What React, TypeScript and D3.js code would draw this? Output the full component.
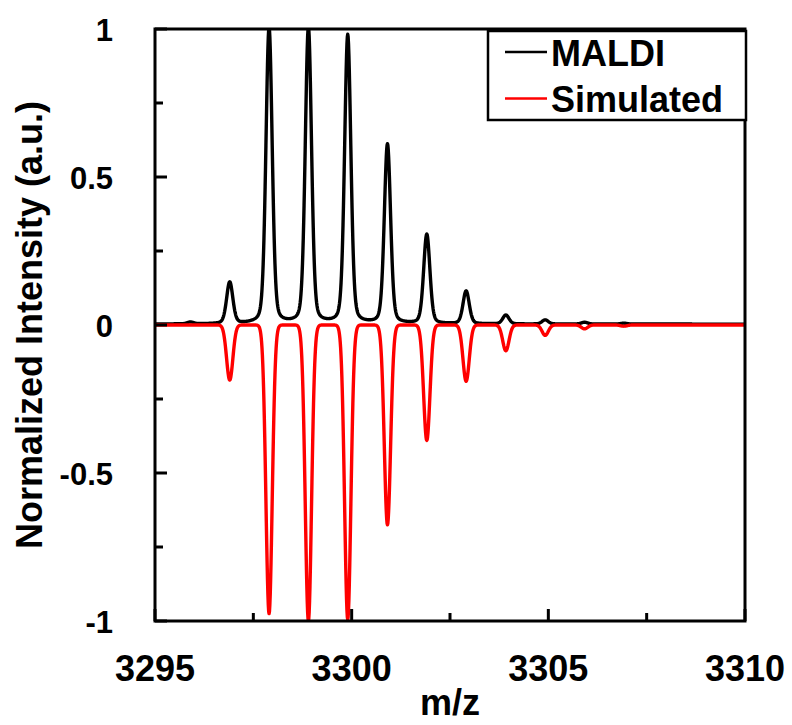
import React from "react";
import * as d3 from "d3";

// Peak list (m/z centres)
const peakMz = [3295.9, 3296.9, 3297.9, 3298.9, 3299.9, 3300.91, 3301.91, 3302.91, 3303.92, 3304.92, 3305.92, 3306.92];
// MALDI (measured) peak heights
const maldiHeights = [0.006, 0.14, 1.0, 1.0, 0.975, 0.606, 0.302, 0.111, 0.03, 0.014, 0.006, 0.003];
// Simulated isotope pattern (plotted downward)
const simulatedHeights = [0, -0.186, -0.975, -1.0, -0.995, -0.675, -0.39, -0.19, -0.087, -0.035, -0.013, -0.004];

const xTicksMajor = [3295, 3300, 3305, 3310];
const xTicksMinor = [3297.5, 3302.5, 3307.5];
const yTicksMajor = [-1, -0.5, 0, 0.5, 1];
const yTicksMinor = [-0.75, -0.25, 0.25, 0.75];
const seriesNames = ["MALDI", "Simulated"];
const seriesColors = ["#000000", "#ff0000"];

const W = 792, H = 725;
const L = 155, R = 745, T = 29, B = 621;
const FONT = "'Liberation Sans', Arial, Helvetica, sans-serif";

const SIGMA = 0.08;
const GAMMA = (2.355 * SIGMA) / 2;

function profile(heights: number[], eta: number, base: number) {
  const pts: [number, number][] = [];
  for (let i = 0; i <= 1500; i++) {
    const x = 3295 + i * 0.01;
    let y = base;
    peakMz.forEach((c, k) => {
      const dx = x - c;
      const g = Math.exp(-(dx * dx) / (2 * SIGMA * SIGMA));
      const l = 1 / (1 + (dx / GAMMA) ** 2);
      y += heights[k] * ((1 - eta) * g + eta * l);
    });
    pts.push([x, y]);
  }
  return pts;
}

export default function App() {
  const x = d3.scaleLinear().domain([3295, 3310]).range([L, R]);
  const y = d3.scaleLinear().domain([-1, 1]).range([B, T]);
  const line = d3.line<[number, number]>().x((d) => x(d[0])).y((d) => y(d[1]));
  const maldi = profile(maldiHeights, 0.25, 0.003);
  const sim = profile(simulatedHeights, 0, 0);

  return (
    <svg width={W} height={H} style={{ display: "block", position: "absolute", left: 0, top: 0 }} fontFamily={FONT} fontWeight="bold">
      <defs>
        <clipPath id="plot">
          <rect x={L} y={T} width={R - L} height={B - T} />
        </clipPath>
      </defs>
      <g clipPath="url(#plot)">
        <path d={line(maldi) || ""} fill="none" stroke={seriesColors[0]} strokeWidth={3.4} strokeLinejoin="round" />
        <path d={line(sim) || ""} fill="none" stroke={seriesColors[1]} strokeWidth={3.4} strokeLinejoin="round" />
      </g>
      {/* ticks */}
      {yTicksMajor.map((t) => (
        <line key={"ym" + t} x1={L} x2={L + 12} y1={y(t)} y2={y(t)} stroke="#000" strokeWidth={3} />
      ))}
      {yTicksMinor.map((t) => (
        <line key={"yn" + t} x1={L} x2={L + 8} y1={y(t)} y2={y(t)} stroke="#000" strokeWidth={3} />
      ))}
      {xTicksMajor.map((t) => (
        <line key={"xm" + t} x1={x(t)} x2={x(t)} y1={B} y2={B - 12} stroke="#000" strokeWidth={3} />
      ))}
      {xTicksMinor.map((t) => (
        <line key={"xn" + t} x1={x(t)} x2={x(t)} y1={B} y2={B - 8} stroke="#000" strokeWidth={3} />
      ))}
      <rect x={L} y={T} width={R - L} height={B - T} fill="none" stroke="#000" strokeWidth={3} />
      {/* tick labels */}
      {yTicksMajor.map((t) => (
        <text key={"yl" + t} x={113} y={y(t) + 12} textAnchor="end" fontSize={31}>
          {String(t)}
        </text>
      ))}
      {xTicksMajor.map((t) => (
        <text key={"xl" + t} x={x(t)} y={681} textAnchor="middle" fontSize={36}>
          {String(t)}
        </text>
      ))}
      <text x={(L + R) / 2} y={715} textAnchor="middle" fontSize={36}>m/z</text>
      <text transform={`translate(42, ${(T + B) / 2}) rotate(-90)`} textAnchor="middle" fontSize={36}>
        Normalized Intensity (a.u.)
      </text>
      {/* legend */}
      <rect x={488} y={31} width={258} height={89} fill="#fff" stroke="#000" strokeWidth={2.5} />
      {seriesNames.map((n, i) => (
        <g key={n}>
          <line x1={505} x2={547} y1={52 + i * 46.5} y2={52 + i * 46.5} stroke={seriesColors[i]} strokeWidth={2.5} />
          <text x={551} y={65.5 + i * 46} fontSize={36}>{n}</text>
        </g>
      ))}
    </svg>
  );
}
